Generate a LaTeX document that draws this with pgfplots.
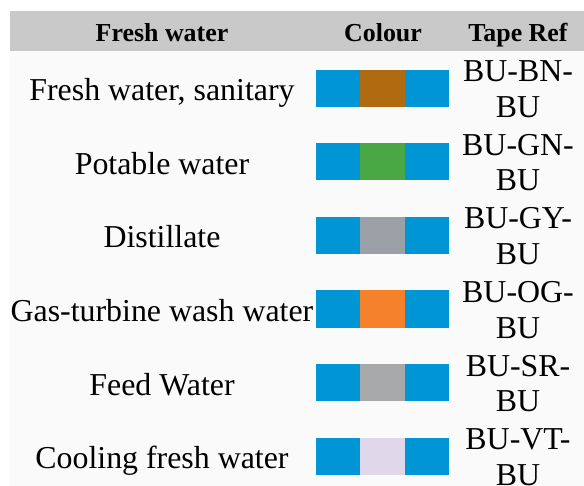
\documentclass[border=0pt]{standalone}
\usepackage{pgfplots}
\pgfplotsset{compat=1.18}
\usepackage{fontspec}
\setmainfont{Liberation Serif}
\definecolor{tblue}{RGB}{0,150,214}
\definecolor{tbrown}{RGB}{176,106,16}
\definecolor{tgreen}{RGB}{74,168,68}
\definecolor{tgrayA}{RGB}{154,160,166}
\definecolor{torange}{RGB}{245,130,42}
\definecolor{tgrayB}{RGB}{167,168,170}
\definecolor{tviolet}{RGB}{224,216,234}
\definecolor{hdr}{RGB}{201,201,201}
\definecolor{bodybg}{RGB}{250,250,250}
\newcommand{\hfont}{\bfseries\fontsize{26}{30}\selectfont}
\newcommand{\bfont}{\fontsize{32}{36}\selectfont}
\begin{document}
\begin{tikzpicture}[x=1bp,y=1bp]
\fill[white] (0,0) rectangle (584,486);
\begin{axis}[at={(0,0)},anchor=south west,
  scale only axis, width=584bp, height=486bp,
  xmin=0, xmax=584, ymin=0, ymax=486, y dir=reverse,
  hide axis, clip=false]
% background
\fill[bodybg] (axis cs:10,50.7) rectangle (axis cs:584,486);
\fill[hdr] (axis cs:10,11) rectangle (axis cs:584,50.7);
% header
\node[font=\hfont,anchor=base] at (axis cs:162,41.7) {Fresh water};
\node[font=\hfont,anchor=base] at (axis cs:383,41.7) {Colour};
\node[font=\hfont,anchor=base] at (axis cs:518,41.7) {Tape Ref};
% swatches: left blue, middle colour, right blue
\addplot[fill=tblue,draw=none] coordinates {(316,70) (360.5,70) (360.5,107) (316,107)};
\addplot[fill=tbrown,draw=none] coordinates {(360,70) (405,70) (405,107) (360,107)};
\addplot[fill=tblue,draw=none] coordinates {(404.5,70) (449,70) (449,107) (404.5,107)};
\addplot[fill=tblue,draw=none] coordinates {(316,143.5) (360.5,143.5) (360.5,180.5) (316,180.5)};
\addplot[fill=tgreen,draw=none] coordinates {(360,143.5) (405,143.5) (405,180.5) (360,180.5)};
\addplot[fill=tblue,draw=none] coordinates {(404.5,143.5) (449,143.5) (449,180.5) (404.5,180.5)};
\addplot[fill=tblue,draw=none] coordinates {(316,217) (360.5,217) (360.5,254) (316,254)};
\addplot[fill=tgrayA,draw=none] coordinates {(360,217) (405,217) (405,254) (360,254)};
\addplot[fill=tblue,draw=none] coordinates {(404.5,217) (449,217) (449,254) (404.5,254)};
\addplot[fill=tblue,draw=none] coordinates {(316,290.5) (360.5,290.5) (360.5,327.5) (316,327.5)};
\addplot[fill=torange,draw=none] coordinates {(360,290.5) (405,290.5) (405,327.5) (360,327.5)};
\addplot[fill=tblue,draw=none] coordinates {(404.5,290.5) (449,290.5) (449,327.5) (404.5,327.5)};
\addplot[fill=tblue,draw=none] coordinates {(316,364) (360.5,364) (360.5,401) (316,401)};
\addplot[fill=tgrayB,draw=none] coordinates {(360,364) (405,364) (405,401) (360,401)};
\addplot[fill=tblue,draw=none] coordinates {(404.5,364) (449,364) (449,401) (404.5,401)};
\addplot[fill=tblue,draw=none] coordinates {(316,437.5) (360.5,437.5) (360.5,474.5) (316,474.5)};
\addplot[fill=tviolet,draw=none] coordinates {(360,437.5) (405,437.5) (405,474.5) (360,474.5)};
\addplot[fill=tblue,draw=none] coordinates {(404.5,437.5) (449,437.5) (449,474.5) (404.5,474.5)};
% body text
\node[font=\bfont,anchor=base] at (axis cs:162,101) {Fresh water, sanitary};
\node[font=\bfont,anchor=base] at (axis cs:162,174.5) {Potable water};
\node[font=\bfont,anchor=base] at (axis cs:162,248) {Distillate};
\node[font=\bfont,anchor=base] at (axis cs:162,321.5) {Gas-turbine wash water};
\node[font=\bfont,anchor=base] at (axis cs:162,395) {Feed Water};
\node[font=\bfont,anchor=base] at (axis cs:162,468.5) {Cooling fresh water};
\node[font=\bfont,anchor=base] at (axis cs:518,82) {BU-BN-};
\node[font=\bfont,anchor=base] at (axis cs:518,117.5) {BU};
\node[font=\bfont,anchor=base] at (axis cs:518,155.5) {BU-GN-};
\node[font=\bfont,anchor=base] at (axis cs:518,191) {BU};
\node[font=\bfont,anchor=base] at (axis cs:518,229) {BU-GY-};
\node[font=\bfont,anchor=base] at (axis cs:518,264.5) {BU};
\node[font=\bfont,anchor=base] at (axis cs:518,302.5) {BU-OG-};
\node[font=\bfont,anchor=base] at (axis cs:518,338) {BU};
\node[font=\bfont,anchor=base] at (axis cs:518,376) {BU-SR-};
\node[font=\bfont,anchor=base] at (axis cs:518,411.5) {BU};
\node[font=\bfont,anchor=base] at (axis cs:518,449.5) {BU-VT-};
\node[font=\bfont,anchor=base] at (axis cs:518,485) {BU};
\end{axis}
\pgfresetboundingbox
\path[use as bounding box] (0,0) rectangle (584,486);
\end{tikzpicture}
\end{document}
